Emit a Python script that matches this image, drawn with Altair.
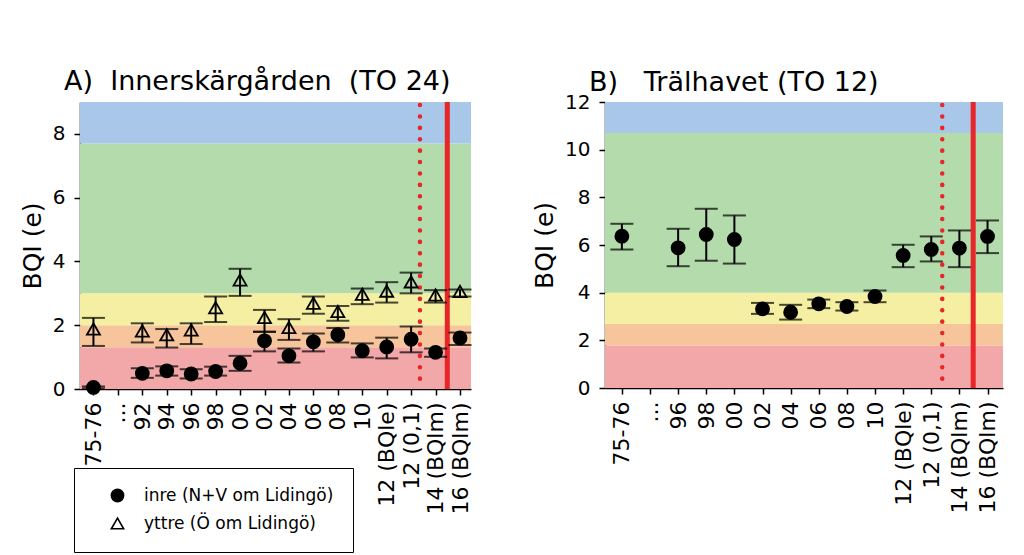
import json
import altair as alt
import pandas as pd

FONT = "DejaVu Sans"
NB = "\u00a0"

# ---------------- Panel A: Innerskärgården (TO 24) ----------------
labels_a = ["75-76", "...", "92", "94", "96", "98", "00", "02", "04", "06", "08", "10",
            "12 (BQle)", "12 (0,1)", "14 (BQlm)", "16 (BQlm)"]
inre_a_mean = [0.05, None, 0.49, 0.57, 0.47, 0.55, 0.81, 1.51, 1.04, 1.48, 1.70, 1.20, 1.32, 1.56, 1.15, 1.60]
inre_a_lo = [0.02, None, 0.35, 0.42, 0.33, 0.42, 0.57, 1.18, 0.83, 1.18, 1.46, 0.99, 0.96, 1.15, 1.01, 1.38]
inre_a_hi = [0.08, None, 0.65, 0.71, 0.62, 0.70, 1.04, 1.80, 1.27, 1.74, 1.91, 1.43, 1.61, 1.96, 1.27, 1.77]
yttre_a_mean = [1.88, None, 1.82, 1.70, 1.85, 2.55, 3.42, 2.24, 1.93, 2.69, 2.43, 2.97, 3.07, 3.36, 2.95, 3.06]
yttre_a_lo = [1.35, None, 1.46, 1.30, 1.41, 2.10, 2.92, 1.79, 1.54, 2.36, 2.14, 2.66, 2.71, 3.00, 2.71, 2.90]
yttre_a_hi = [2.23, None, 2.06, 1.88, 2.06, 2.90, 3.77, 2.48, 2.19, 2.90, 2.60, 3.15, 3.35, 3.65, 3.10, 3.12]
bands_a = [0, 1.31, 2.0, 3.0, 7.7, 9.0]
dotted_a = 13.36
solid_a = 14.48

# ---------------- Panel B: Trälhavet (TO 12) ----------------
labels_b = ["75-76", "...", "96", "98", "00", "02", "04", "06", "08", "10",
            "12 (BQle)", "12 (0,1)", "14 (BQlm)", "16 (BQlm)"]
inre_b_mean = [6.37, None, 5.88, 6.44, 6.23, 3.32, 3.18, 3.53, 3.42, 3.84, 5.56, 5.81, 5.87, 6.36]
inre_b_lo = [5.81, None, 5.11, 5.34, 5.22, 3.11, 2.87, 3.35, 3.25, 3.60, 5.07, 5.31, 5.07, 5.66]
inre_b_hi = [6.89, None, 6.68, 7.52, 7.24, 3.57, 3.49, 3.71, 3.60, 4.09, 6.01, 6.36, 6.61, 7.03]
bands_b = [0, 1.78, 2.69, 4.0, 10.7, 12.0]
dotted_b = 11.39
solid_b = 12.49

series_names = ["inre (N+V om Lidingö)", "yttre (Ö om Lidingö)"]
band_names = ["dålig", "otillfredsställande", "måttlig", "god", "hög"]
band_colors = ["#f2a7a8", "#f6c59b", "#f4efa2", "#b4dbab", "#a9c7e8"]

LEGEND = alt.Legend(title=None, orient="none", legendX=-6, legendY=366,
                    strokeColor="black", fillColor="white", padding=19,
                    symbolOffset=16, labelFontSize=17, labelFont=FONT, labelLimit=0,
                    labelColor="black", symbolSize=150, symbolStrokeWidth=1.6,
                    rowPadding=9, labelOffset=18)


def series_df(labels, name, mean, lo, hi):
    rows = []
    for i, lab in enumerate(labels):
        if mean[i] is None:
            continue
        rows.append({"idx": i, "label": lab, "serie": name, "mean": mean[i], "lo": lo[i], "hi": hi[i]})
    return pd.DataFrame(rows)


def panel(labels, dfs, edges, dotted_x, solid_x, xdom, ymax, yvals, title, width, height, toff):
    data = pd.concat(dfs, ignore_index=True)
    bands = pd.DataFrame({"y0": edges[:-1], "y1": edges[1:], "klass": band_names})
    label_expr = json.dumps(labels) + "[datum.value]"

    xs = alt.Scale(domain=xdom, nice=False, zero=False)
    ys = alt.Scale(domain=[0, ymax], nice=False)
    x_axis = alt.Axis(values=list(range(len(labels))), labelExpr=label_expr,
                      labelAngle=270, labelAlign="right", labelBaseline="middle",
                      labelFontSize=22, labelFont=FONT, tickSize=6, labelPadding=7,
                      labelOverlap=False, labelFlush=False, title=None)
    y_axis = alt.Axis(values=yvals, labelFontSize=20, tickSize=6, labelPadding=9,
                      titleFontSize=25, titlePadding=7, titleFontWeight="normal",
                      titleFont=FONT, labelFont=FONT, labelOverlap=False, labelFlush=False)

    def X():
        return alt.X("idx:Q", scale=xs, axis=x_axis, title=None)

    def Y(field):
        return alt.Y(field, scale=ys, axis=y_axis, title="BQI (e)")

    band_layer = alt.Chart(bands).mark_rect().encode(
        x=alt.value(0), x2=alt.value(width),
        y=Y("y0:Q"), y2="y1:Q",
        color=alt.Color("klass:N", scale=alt.Scale(domain=band_names, range=band_colors), legend=None),
    )

    dotted = alt.Chart(pd.DataFrame({"idx": [dotted_x]})).mark_rule(
        color="#e8262a", strokeWidth=4.5, strokeDash=[0.1, 11.3], strokeCap="round"
    ).encode(x=X(), y=alt.value(3), y2=alt.value(height - 7))
    solid = alt.Chart(pd.DataFrame({"idx": [solid_x]})).mark_rule(
        color="#e8262a", strokeWidth=5
    ).encode(x=X(), y=alt.value(0), y2=alt.value(height))

    base = alt.Chart(data)
    bars = base.mark_rule(color="black", strokeWidth=2).encode(x=X(), y=Y("lo:Q"), y2="hi:Q")
    cap_lo = base.mark_tick(color="black", orient="horizontal", size=23, thickness=2).encode(
        x=X(), y=Y("lo:Q"))
    cap_hi = base.mark_tick(color="black", orient="horizontal", size=23, thickness=2).encode(
        x=X(), y=Y("hi:Q"))
    pts = base.mark_point(filled=True, strokeWidth=1.8, opacity=1, size=170).encode(
        x=X(), y=Y("mean:Q"),
        shape=alt.Shape("serie:N", scale=alt.Scale(domain=series_names, range=["circle", "triangle-up"]),
                        legend=LEGEND),
        fill=alt.Fill("serie:N", scale=alt.Scale(domain=series_names, range=["black", "transparent"]),
                      legend=LEGEND),
        stroke=alt.Stroke("serie:N", scale=alt.Scale(domain=series_names, range=["black", "black"]),
                          legend=LEGEND),
    )
    return alt.layer(band_layer, dotted, solid, bars, cap_lo, cap_hi, pts).properties(
        width=width, height=height,
        title=alt.TitleParams(title, anchor="start", frame="group", fontSize=27, font=FONT,
                              fontWeight="normal", dx=-16, offset=toff, color="black"),
    )


chart_a = panel(labels_a,
                [series_df(labels_a, series_names[0], inre_a_mean, inre_a_lo, inre_a_hi),
                 series_df(labels_a, series_names[1], yttre_a_mean, yttre_a_lo, yttre_a_hi)],
                bands_a, dotted_a, solid_a, [-0.55, 15.45], 9, [0, 2, 4, 6, 8],
                "A)" + NB + NB + "Innerskärgården" + NB + NB + "(TO 24)", 391, 287, 4)
chart_b = panel(labels_b,
                [series_df(labels_b, series_names[0], inre_b_mean, inre_b_lo, inre_b_hi)],
                bands_b, dotted_b, solid_b, [-0.6, 13.55], 12, [0, 2, 4, 6, 8, 10, 12],
                "B)" + NB * 3 + "Trälhavet" + NB + "(TO 12)", 398, 286, -5)

chart = alt.hconcat(chart_a, chart_b, spacing=60).resolve_scale(
    shape="shared", fill="shared", stroke="shared", color="shared"
).properties(
    padding={"left": 12, "top": 59, "right": 5, "bottom": 0},
    background="white",
).configure_view(stroke=None).configure_axis(
    domainColor="black", domainWidth=1.5, tickColor="black", tickWidth=1.5,
    labelColor="black", titleColor="black", grid=False,
)

chart.save("out.html", embed_options={"renderer": "svg", "actions": False})
